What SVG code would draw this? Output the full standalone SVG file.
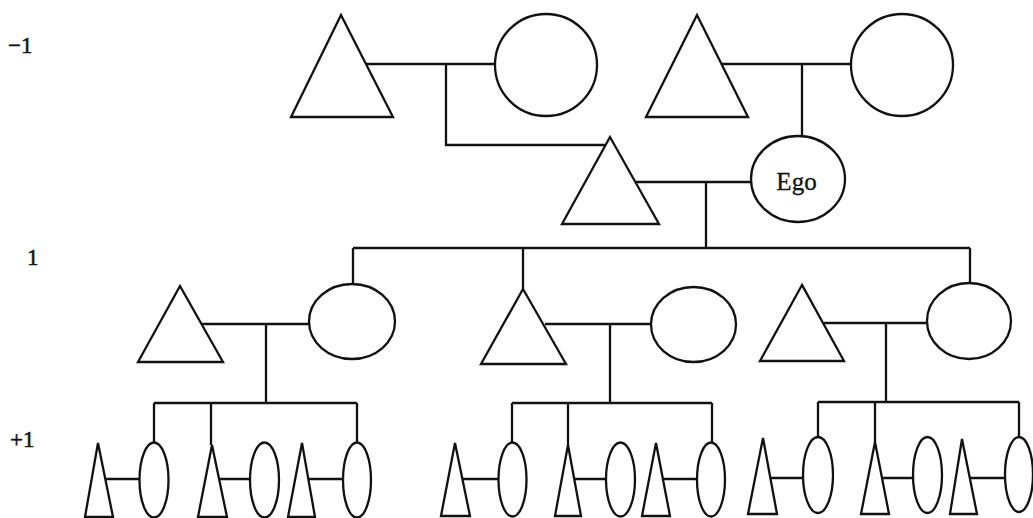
<svg xmlns="http://www.w3.org/2000/svg" width="1033" height="518" viewBox="0 0 1033 518">
<style>
.s{fill:#fff;stroke:#111;stroke-width:2.3;stroke-linejoin:miter}
.c{fill:none;stroke:#111;stroke-width:2.3}
.lbl{font-family:"Liberation Serif","Times New Roman",serif;font-size:23px;fill:#111;stroke:#111;stroke-width:0.5}
.ego{font-family:"Liberation Serif","Times New Roman",serif;font-size:25px;fill:#111;stroke:#111;stroke-width:0.3;text-anchor:middle}
</style>
<rect width="1033" height="518" fill="#fff"/>
<g id="labels">
<text class="lbl" x="8" y="53">−1</text>
<text class="lbl" x="27" y="265">1</text>
<text class="lbl" x="10" y="447">+1</text>
</g>
<g id="connectors">
<path class="c" d="M366,64H496 M446,64V145H605 M721,64H851 M802,64V136 M635,182H751 M706,182V248 M353,248H970 M353,248V284 M523,248V289 M970,248V283"/>
<path class="c" d="M201,324H309 M266,324V403 M154,403H357 M154,403V442.5 M211,403V445 M357,403V442.5"/>
<path class="c" d="M545,324H651 M610,324V403 M512,403H712 M512,403V442.5 M568,403V445 M712,403V442.5"/>
<path class="c" d="M824,323H927 M886,323V402 M818,402H1019 M818,402V437 M875,402V442 M1019,402V437"/>
<path class="c" d="M105,479H139.5 M219,479H250 M308,479H343"/>
<path class="c" d="M462,479H498.5 M575,479H606 M663,479H697"/>
<path class="c" d="M770,478H803 M882,478H913 M969,478H1005"/>
</g>
<g id="gen-1-m1"><polygon class="s" points="341,15 291,117 393,117"/></g>
<g id="gen-1-f1"><circle class="s" cx="546" cy="65" r="51"/></g>
<g id="gen-1-m2"><polygon class="s" points="697,15 646,117 748,117"/></g>
<g id="gen-1-f2"><circle class="s" cx="902" cy="65" r="51"/></g>
<g id="husband"><polygon class="s" points="610,137 562,224 659,224"/></g>
<g id="ego"><ellipse class="s" cx="798" cy="179" rx="47" ry="43"/><text class="ego" x="796.5" y="190">Ego</text></g>
<g id="g1-m1"><polygon class="s" points="180,286 138,362 223,362"/></g>
<g id="g1-f1"><ellipse class="s" cx="352" cy="321.5" rx="43" ry="37.5"/></g>
<g id="g1-m2"><polygon class="s" points="523,289 481,364 566,364"/></g>
<g id="g1-f2"><ellipse class="s" cx="693.5" cy="324.5" rx="42.5" ry="37.5"/></g>
<g id="g1-m3"><polygon class="s" points="802,285 760,361 844,361"/></g>
<g id="g1-f3"><ellipse class="s" cx="969" cy="321" rx="42" ry="38"/></g>
<g id="g2-a1"><polygon class="s" points="98,443 85,517 113,517"/><ellipse class="s" cx="154" cy="480" rx="14.5" ry="37.5"/></g>
<g id="g2-a2"><polygon class="s" points="212,445 198,517 227,517"/><ellipse class="s" cx="264.5" cy="480" rx="14.5" ry="37.5"/></g>
<g id="g2-a3"><polygon class="s" points="302,443 288,517 315,517"/><ellipse class="s" cx="357" cy="480" rx="14" ry="37.5"/></g>
<g id="g2-b1"><polygon class="s" points="455,443 441,516 470,516"/><ellipse class="s" cx="512.5" cy="479.5" rx="14" ry="37"/></g>
<g id="g2-b2"><polygon class="s" points="568,445 555,516 581,516"/><ellipse class="s" cx="620.5" cy="479.5" rx="14.5" ry="37"/></g>
<g id="g2-b3"><polygon class="s" points="656,443 642,516 670,516"/><ellipse class="s" cx="711" cy="479.5" rx="14" ry="37"/></g>
<g id="g2-c1"><polygon class="s" points="763,438 748,514 777,514"/><ellipse class="s" cx="818" cy="475" rx="15" ry="38"/></g>
<g id="g2-c2"><polygon class="s" points="875,442 861,514 889,514"/><ellipse class="s" cx="927.5" cy="475" rx="14.5" ry="38"/></g>
<g id="g2-c3"><polygon class="s" points="962,439 950,514 977,514"/><ellipse class="s" cx="1019" cy="474.5" rx="14" ry="37.5"/></g>
</svg>
